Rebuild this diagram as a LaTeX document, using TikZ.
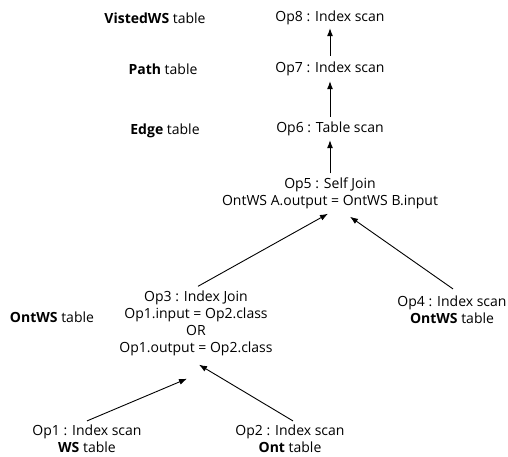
\documentclass[tikz,border=0pt]{standalone}
\usepackage{fontspec}
\setmainfont{Open Sans}
\usetikzlibrary{arrows.meta,calc}

\begin{document}
\begin{tikzpicture}[x=1pt, y=-1pt, font=\fontsize{14}{17}\selectfont,
    op/.style={align=center, inner sep=1pt},
    tbl/.style={inner sep=1pt},
    flow/.style={-{Latex[length=8pt,width=6pt]}, line width=0.9pt}]
  \useasboundingbox (0,0) rectangle (508,456);
  % operators, top to bottom
  \node[op] (op8) at (330,18) {Op8 : Index scan};
  \node[op] (op7) at (330,69) {Op7 : Index scan};
  \node[op] (op6) at (330,129) {Op6 : Table scan};
  \node[op] (op5) at (330,193) {Op5 : Self Join\\OntWS A.output = OntWS B.input};
  \node[op] (op3) at (196,323) {Op3 : Index Join\\Op1.input = Op2.class\\OR\\Op1.output = Op2.class};
  \node[op] (op4) at (452,310) {Op4 : Index scan\\\textbf{OntWS} table};
  \node[op] (op1) at (87,439) {Op1 : Index scan\\\textbf{WS} table};
  \node[op] (op2) at (290,439) {Op2 : Index scan\\\textbf{Ont} table};
  % tables
  \node[tbl] (tVisited) at (155,18) {\textbf{VistedWS} table};
  \node[tbl] (tPath) at (163,69) {\textbf{Path} table};
  \node[tbl] (tEdge) at (165,131) {\textbf{Edge} table};
  \node[tbl] (tOntWS) at (52,317) {\textbf{OntWS} table};
  % flow
  \draw[flow, shorten <=5pt, shorten >=2pt] (op7) -- (op8);
  \draw[flow, shorten <=4pt, shorten >=4pt] (op6) -- (op7);
  \draw[flow, shorten <=3pt, shorten >=3pt] (op5) -- (op6);
  \draw[flow] ($(op3.north)+(2,-3)$) -- ($(op5.south)+(-2,4)$);
  \draw[flow] ($(op4.north)+(1,-6)$) -- ($(op5.south)+(20,7)$);
  \draw[flow] ($(op1.north)+(0,-3)$) -- ($(op3.south)+(-9,22)$);
  \draw[flow] ($(op2.north)+(3,-3)$) -- ($(op3.south)+(3,8)$);
\end{tikzpicture}
\end{document}
